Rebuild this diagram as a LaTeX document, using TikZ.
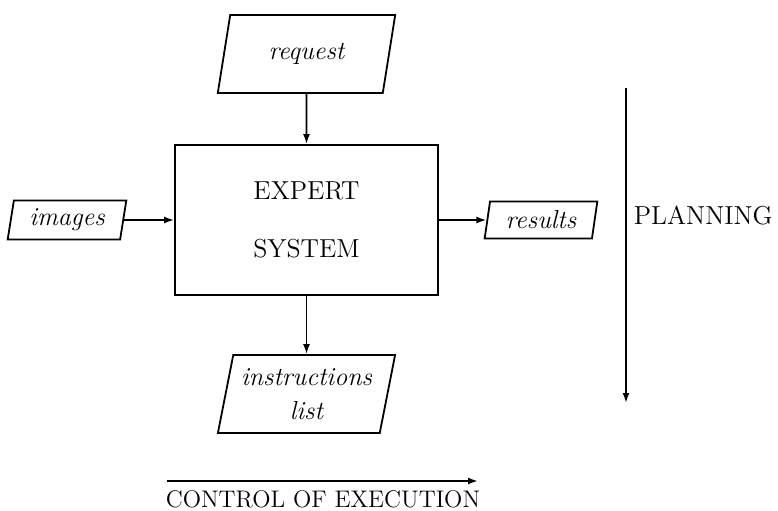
\documentclass[tikz,border=0pt]{standalone}
\usetikzlibrary{shapes.geometric,arrows.meta}
\tikzset{
    data/.style={draw, trapezium, trapezium stretches=true, trapezium left angle=#1,
        trapezium right angle={180-#1}, align=center, inner sep=1pt, font=\itshape\fontsize{13}{17}\selectfont},
    flow/.style={-{Latex[length=5pt,width=3.5pt]}},
}
\begin{document}
\begin{tikzpicture}[x=0.5pt, y=-0.5pt, line width=0.9pt]
    \useasboundingbox (0,0) rectangle (778,510);

    \node[draw, minimum width=131.5pt, minimum height=75pt, align=center,
        font=\fontsize{13}{29}\selectfont] (expert) at (306.5,220) {EXPERT\\SYSTEM};

    \node[data=75.6, minimum width=89pt, minimum height=39pt] (request) at (306.5,54) {request};
    \node[data=75.6, minimum width=89pt, minimum height=39pt] (instr) at (306.5,394) {instructions\\list};
    \node[data=80, minimum width=59.5pt, minimum height=19.5pt] (images) at (67,220) {images};
    \node[data=80, minimum width=56.5pt, minimum height=18.5pt] (results) at (541,220) {results};

    \draw[flow] (request) -- (expert);
    \draw[flow] (expert) -- (instr);
    \draw[flow] (images) -- (expert);
    \draw[flow] (expert) -- (results);

    % planning axis
    \coordinate (plantop) at (626,88);
    \coordinate (planbot) at (626,403);
    \draw[flow] (plantop) -- (planbot);
    \node[anchor=west, inner sep=0pt, font=\fontsize{13}{16}\selectfont] (planning) at (633,215) {PLANNING};

    % execution axis
    \coordinate (execleft) at (167,481);
    \coordinate (execright) at (478,481);
    \draw[flow] (execleft) -- (execright);
    \node[inner sep=0pt, font=\fontsize{12}{15}\selectfont] (control) at (323,499) {CONTROL OF EXECUTION};
\end{tikzpicture}
\end{document}
